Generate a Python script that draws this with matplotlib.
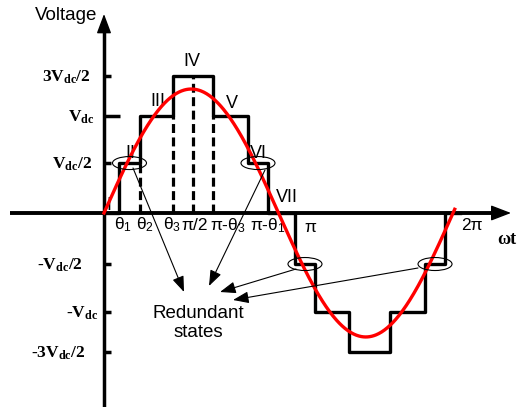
import matplotlib
matplotlib.use('Agg')
import matplotlib.pyplot as plt
import numpy as np
from matplotlib.patches import Ellipse

plt.rcParams['mathtext.fontset'] = 'custom'
plt.rcParams['mathtext.rm'] = 'Liberation Sans'
plt.rcParams['mathtext.it'] = 'Liberation Sans:italic'
plt.rcParams['mathtext.bf'] = 'Liberation Serif:bold'
plt.rcParams['font.family'] = ['Liberation Sans', 'DejaVu Sans']

# ---------------- data (omega*t in rad, voltage in Vdc) ----------------
switch_angles = [0.0, 0.27, 0.648, 1.242, 1.962, 2.592, 2.952,
                 3.438, 3.798, 4.41, 5.149, 5.779, 6.139]
step_levels = [0.0, 0.515, 1.0, 1.41, 1.0, 0.515, 0.0,
               -0.526, -1.02, -1.43, -1.02, -0.526, 0.0]
sine_amplitude = 1.278
sine_end = 2 * np.pi + 0.03

dashed_angles = [0.648, 1.242, 1.60, 1.962]
dashed_tops = [0.515, 1.0, 1.41, 1.0]

level_values = [1.41, 1.0, 0.515, -0.526, -1.02, -1.43]
level_labels = ['3$\\mathbf{V_{dc}}$/2', '$\\mathbf{V_{dc}}$', '$\\mathbf{V_{dc}}$/2',
                '-$\\mathbf{V_{dc}}$/2', '-$\\mathbf{V_{dc}}$', '-3$\\mathbf{V_{dc}}$/2']

angle_labels = ['$\\mathrm{\\theta}_1$', '$\\mathrm{\\theta}_2$', '$\\mathrm{\\theta}_3$',
                'π/2', 'π-$\\mathrm{\\theta}_3$', 'π-$\\mathrm{\\theta}_1$', 'π', '2π']

state_labels = ['I', 'II', 'III', 'IV', 'V', 'VI', 'VII']

redundant_intervals = [1, 5, 7, 11]   # index into switch_angles (start of interval)

# ---------------- layout ----------------
K = 55.55   # px per rad
S = 97.0    # px per Vdc
X0, Y0 = 104, 213
W, H = 518, 407

def dx(px):
    return (px - X0) / K

def dy(py):
    return (Y0 - py) / S

fig = plt.figure(figsize=(W / 100, H / 100), dpi=100)
ax = fig.add_axes([0, 0, 1, 1])
ax.set_xlim(dx(0), dx(W))
ax.set_ylim(dy(H), dy(0))
ax.axis('off')

# axes with arrows
ax.plot([0, 0], [dy(H + 2), dy(30)], color='black', lw=2.5, solid_capstyle='butt', zorder=3)
ax.annotate('', xy=(0, dy(14)), xytext=(0, dy(34)),
            arrowprops=dict(arrowstyle='-|>,head_length=1.2,head_width=0.45', lw=1,
                            color='black', shrinkA=0, shrinkB=0, mutation_scale=10), zorder=3)
ax.plot([dx(10), dx(494)], [0, 0], color='black', lw=2.8, solid_capstyle='butt', zorder=3)
ax.annotate('', xy=(dx(511), 0), xytext=(dx(490), 0),
            arrowprops=dict(arrowstyle='-|>,head_length=1.25,head_width=0.48', lw=1,
                            color='black', shrinkA=0, shrinkB=0, mutation_scale=10), zorder=3)

# y ticks and labels
label_right = [91, 95, 92, 83, 98, 86]
for v, lab, r in zip(level_values, level_labels, label_right):
    tl = 0.29 if abs(v - 1.0) < 1e-6 else 0.13
    ax.plot([0, tl], [v, v], color='black', lw=2.5, solid_capstyle='butt', zorder=3)
    ax.text(dx(r), v - 5.5 / S, lab, ha='right', va='baseline', fontsize=12.5,
            family='Liberation Serif', fontweight='bold')

# dashed lines
for a, t in zip(dashed_angles, dashed_tops):
    ax.plot([a, a], [0, t], color='black', lw=2.3, dashes=(2.8, 1.4), zorder=2)

# stepped waveform
xs = switch_angles + [sine_end + 0.1]
ys = step_levels + [0.0]
ax.step(xs, ys, where='post', color='black', lw=2.4, zorder=4)

# sine
wt = np.linspace(0, sine_end, 500)
ax.plot(wt, sine_amplitude * np.sin(wt), color='#ff0000', lw=2.4, zorder=5)

# ellipses for redundant states
for i in redundant_intervals:
    cx = (switch_angles[i] + switch_angles[i + 1]) / 2
    cy = step_levels[i]
    ax.add_patch(Ellipse((cx, cy), 34 / K, 13 / S, fill=False, ec='black', lw=0.8, zorder=6))

# redundant states text + arrows
ax.text(dx(198.5), dy(323), 'Redundant\nstates', ha='center', va='center',
        fontsize=13.5, linespacing=1.15)
arrow_starts = [(133, 168), (265, 170), (296, 269), (418, 268)]
arrow_tips = [(184, 292), (209, 286), (220, 292), (233, 300)]
for (sx, sy), (tx, ty) in zip(arrow_starts, arrow_tips):
    ax.annotate('', xy=(dx(tx), dy(ty)), xytext=(dx(sx), dy(sy)),
                arrowprops=dict(arrowstyle='-|>,head_length=0.8,head_width=0.3', lw=0.8,
                                color='black', shrinkA=0, shrinkB=0, mutation_scale=12),
                zorder=6)

# angle labels under x axis
angle_label_pos = [(123, 225), (145, 225), (172, 225), (195, 226), (228, 226),
                   (268, 226), (310, 228), (472, 226)]
for lab, (px, py) in zip(angle_labels, angle_label_pos):
    ax.text(dx(px), dy(py), lab, ha='center', va='center', fontsize=12.5)

# state (roman numeral) labels
state_pos = [(108.5, 205), (130, 153), (158, 102), (192, 62), (232, 103), (258, 153), (287, 198)]
for lab, (px, py) in zip(state_labels, state_pos):
    ax.text(dx(px), dy(py), lab, ha='center', va='center', fontsize=13)

# axis titles
ax.text(dx(97), dy(15), 'Voltage', ha='right', va='center', fontsize=13.5)
ax.text(dx(497), dy(240), 'ωt', ha='left', va='center', fontsize=13,
        family='Liberation Serif', fontweight='bold')

fig.savefig('out.png', dpi=100)
